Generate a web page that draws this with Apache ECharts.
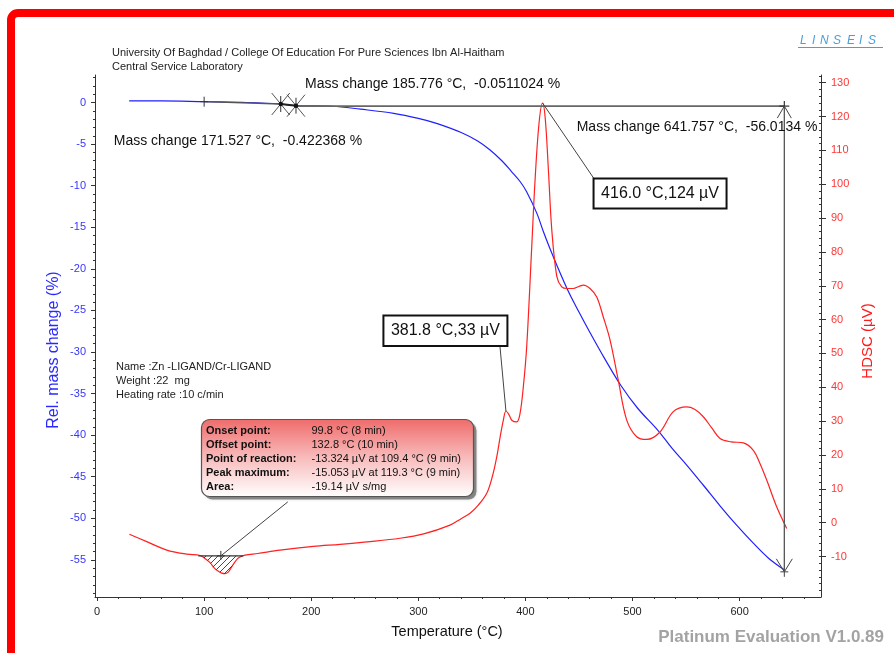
<!DOCTYPE html>
<html>
<head>
<meta charset="utf-8">
<script src="https://cdn.jsdelivr.net/npm/echarts@6/dist/echarts.min.js"></script>
<style>
html, body { margin: 0; padding: 0; background: #fff; }
#chart { width: 894px; height: 653px; }
</style>
</head>
<body>
<div id="chart"></div>
<script>
// ---- TG curve: temperature (°C) vs relative mass change (%) ----
const tgTemp = [30, 60, 100, 140, 171.5, 185.8, 220, 246, 277, 300, 317, 340, 355, 367, 378, 387, 395, 401,
  410.6, 417, 424.6, 438.6, 450, 460, 474, 489, 505, 523.5, 537, 550.6, 566, 581.7, 597, 612.8, 627, 641.757];
const tgMass = [0.2, 0.2, 0.1, 0, -0.18, -0.38, -0.45, -0.8, -1.3, -1.9, -2.5, -3.6, -4.6, -5.7, -7.0, -8.3, -9.5, -10.7,
  -13.3, -15.6, -18.1, -22.3, -25.2, -27.6, -30.8, -34.0, -36.8, -39.4, -41.6, -43.6, -46.0, -48.5, -50.8, -53.0, -54.8, -56.2];

// ---- HDSC curve: temperature (°C) vs signal (µV) ----
const dscTemp = [30.2, 46.4, 65.1, 83.8, 96.2, 100.5, 105.5, 109.4, 113, 116.5, 119.3, 122.5, 125.8, 128.8, 131.9, 138.2,
  150, 170.9, 202, 226.9, 255, 282.9, 305, 329.6, 340, 348.3, 356, 363.9, 369, 373.2, 376.5, 379.4, 381.8, 384.5, 387.5,
  392, 395, 398, 401.2, 405.9, 409, 412.7, 416.0, 418.5, 421.5, 424.6, 429.3, 433.9, 439, 444.7, 450, 454.1, 460.3,
  466.6, 472.5, 479, 486.7, 494.6, 503.9, 513.3, 525.7, 538.1, 550.6, 558, 566.1, 574, 581.7, 592, 603.5, 612.8, 619,
  625.3, 634.6, 644];
const dscSignal = [-3.4, -5.6, -8.1, -9.3, -9.7, -10.5, -11.8, -13.324, -14.3, -14.9, -15.053, -14.6, -13.0, -11.6, -10.4, -9.6,
  -9.1, -8.1, -7.0, -6.4, -5.6, -4.6, -3.3, -0.7, 1.2, 2.8, 5.2, 8.7, 13.5, 19.4, 25.5, 30.3, 33, 32.0, 30.2,
  29.8, 32.3, 40, 52, 81.5, 101.2, 118, 124, 119.5, 104, 86.6, 72.8, 69.7, 69.2, 69.2, 69.8, 70.2, 69.2,
  66.7, 61, 54, 42.1, 30.3, 25.4, 24.6, 26.8, 32.8, 34.2, 33.5, 31.3, 28, 24.9, 23.9, 23.6, 21.4, 17.5,
  12.6, 4.7, -1.7];

// ---- axis ticks ----
const tempTicks = [0, 100, 200, 300, 400, 500, 600];
const massTicks = [0, -5, -10, -15, -20, -25, -30, -35, -40, -45, -50, -55];
const dscTicks = [-10, 0, 10, 20, 30, 40, 50, 60, 70, 80, 90, 100, 110, 120, 130];

// ---- mass change evaluation ----
const massChangeTemps = [171.527, 185.776, 641.757];
const massChangeValues = [-0.422368, -0.0511024, -56.0134];
const massMarkerLevels = [-0.18, -0.38, -0.43];
const massStepStart = [100, 0.1];

// ---- DSC peak labels ----
const peakTemps = [381.8, 416.0];
const peakSignals = [33, 124];

// ---- endothermic peak evaluation ----
const evalOnset = [99.8, 8];
const evalOffset = [132.8, 10];
const evalReaction = [-13.324, 109.4, 9];
const evalPeakMax = [-15.053, 119.3, 9];
const evalArea = -19.14;
const evalBaseTemps = [94.6, 136.6];
const evalBaseLevel = -9.8;

// ---- axis ranges ----
const tempRange = [-1.9, 676];
const massRange = [-59.47, 3.31];
const dscRange = [-21.95, 132.27];

const FONT = '"Liberation Sans", Arial, sans-serif';

const massMinor = [];
for (let v = -59; v <= 3; v += 1) massMinor.push(v);
const dscMinor = [];
for (let v = -20; v <= 132; v += 2) dscMinor.push(v);
const tempMinor = [];
for (let v = 0; v <= 676; v += 20) tempMinor.push(v);

const tgData = tgTemp.map((t, i) => [t, tgMass[i]]);
const dscData = dscTemp.map((t, i) => [t, dscSignal[i]]);

// diagonal hatch used for the evaluated peak area
const hatch = document.createElement('canvas');
hatch.width = 6; hatch.height = 6;
(function () {
  const ctx = hatch.getContext('2d');
  ctx.strokeStyle = '#333';
  ctx.lineWidth = 0.9;
  ctx.beginPath();
  ctx.moveTo(0, 6); ctx.lineTo(6, 0);
  ctx.moveTo(-1, 1); ctx.lineTo(1, -1);
  ctx.moveTo(5, 7); ctx.lineTo(7, 5);
  ctx.stroke();
})();

function seg(a, b, w, col) {
  return { type: 'line', shape: { x1: a[0], y1: a[1], x2: b[0], y2: b[1] },
    style: { stroke: col || '#555', lineWidth: w || 1 } };
}
function txt(x, y, s, font, align, color) {
  return { type: 'text', style: { x: x, y: y, text: s, font: font, fill: color || '#111',
    textAlign: align || 'left', textVerticalAlign: 'middle' } };
}

// mass-change steps, markers, arrows and their captions
function renderMassMarks(params, api) {
  const g = [];
  const start = api.coord(massStepStart);
  const m1 = api.coord([massChangeTemps[0], massMarkerLevels[0]]);
  const m2 = api.coord([massChangeTemps[1], massMarkerLevels[1]]);
  const c0 = api.coord([massChangeTemps[1], massMarkerLevels[2]]);
  const top = api.coord([massChangeTemps[2], massMarkerLevels[2]]);
  const bottom = api.coord([massChangeTemps[2], massMarkerLevels[2] + massChangeValues[2]]);

  g.push(seg(start, m1, 1.3, '#555'));
  g.push(seg(m1, m2, 2, '#222'));
  g.push(seg(c0, top, 1.6, '#666'));
  g.push(seg(top, bottom, 1.3, '#555'));

  // small cross at the start of the step
  g.push(seg([start[0] - 4, start[1]], [start[0] + 4, start[1]], 1, '#333'));
  g.push(seg([start[0], start[1] - 5], [start[0], start[1] + 5], 1, '#333'));

  // asterisk markers
  [m1, m2].forEach(function (p) {
    g.push(seg([p[0] - 9, p[1] - 11], [p[0] + 9, p[1] + 11], 1, '#555'));
    g.push(seg([p[0] + 9, p[1] - 11], [p[0] - 9, p[1] + 11], 1, '#555'));
    g.push(seg([p[0], p[1] - 8], [p[0], p[1] + 8], 1, '#333'));
    g.push({ type: 'circle', shape: { cx: p[0], cy: p[1], r: 2.2 }, style: { fill: '#111' } });
  });

  // arrow heads on the vertical mass-change line
  g.push(seg([top[0] - 5, top[1]], [top[0] + 5, top[1]], 1.2, '#333'));
  g.push(seg([top[0], top[1] - 5], [top[0], top[1]], 1.2, '#333'));
  g.push(seg(top, [top[0] - 7, top[1] + 12], 1, '#444'));
  g.push(seg(top, [top[0] + 7, top[1] + 12], 1, '#444'));
  g.push(seg(bottom, [bottom[0] - 8, bottom[1] - 13], 1, '#444'));
  g.push(seg(bottom, [bottom[0] + 8, bottom[1] - 13], 1, '#444'));
  g.push(seg(bottom, [bottom[0], bottom[1] + 5], 1, '#444'));
  g.push(seg([bottom[0] - 4, bottom[1]], [bottom[0] + 4, bottom[1]], 1, '#444'));

  const cap = function (i) {
    return 'Mass change ' + massChangeTemps[i] + ' °C,  ' + massChangeValues[i] + ' %';
  };
  const f = '14px ' + FONT;
  g.push(txt(m1[0] - 167, m1[1] + 37, cap(0), f, 'left'));
  g.push(txt(m2[0] + 9, m2[1] - 22, cap(1), f, 'left'));
  g.push(txt(top[0] + 33, top[1] + 21, cap(2), f, 'right'));
  return { type: 'group', children: g };
}

// DSC peak value boxes, evaluated peak area and baseline
function renderDscMarks(params, api) {
  const g = [];
  const boxFont = '16px ' + FONT;
  const label = function (i) {
    return peakTemps[i].toFixed(1) + ' °C,' + peakSignals[i] + ' µV';
  };

  // hatched area between baseline and curve
  const poly = [api.coord([evalBaseTemps[0], evalBaseLevel])];
  dscTemp.forEach(function (t, i) {
    if (t > evalBaseTemps[0] && t < evalBaseTemps[1]) {
      poly.push(api.coord([t, Math.min(dscSignal[i], evalBaseLevel)]));
    }
  });
  poly.push(api.coord([evalBaseTemps[1], evalBaseLevel]));
  g.push({ type: 'polygon', shape: { points: poly, smooth: 0.3 },
    style: { fill: { image: hatch, repeat: 'repeat' }, stroke: null } });

  const b0 = api.coord([evalBaseTemps[0], evalBaseLevel]);
  const b1 = api.coord([evalBaseTemps[1], evalBaseLevel]);
  g.push(seg(b0, b1, 1.2, '#333'));
  const mid = api.coord([(evalBaseTemps[0] + evalBaseTemps[1]) / 2, evalBaseLevel]);
  g.push(seg([mid[0] - 4, mid[1]], [mid[0] + 4, mid[1]], 1, '#333'));
  g.push(seg([mid[0], mid[1] - 5], [mid[0], mid[1] + 4], 1, '#333'));
  g.push(seg(mid, [mid[0] + 67, mid[1] - 54], 1, '#444'));

  // 381.8 °C box (up-left of the point)
  const p0 = api.coord([peakTemps[0], peakSignals[0]]);
  g.push(seg([p0[0] - 6, p0[1] - 65], p0, 1, '#444'));
  g.push({ type: 'rect', shape: { x: p0[0] - 122.5, y: p0[1] - 95.5, width: 124, height: 30.5 },
    style: { fill: '#fff', stroke: '#111', lineWidth: 2 } });
  g.push(txt(p0[0] - 60.5, p0[1] - 80, label(0), boxFont, 'center'));

  // 416.0 °C box (down-right of the point)
  const p1 = api.coord([peakTemps[1], peakSignals[1]]);
  g.push(seg(p1, [p1[0] + 51, p1[1] + 75], 1, '#444'));
  g.push({ type: 'rect', shape: { x: p1[0] + 51, y: p1[1] + 75.5, width: 133, height: 30 },
    style: { fill: '#fff', stroke: '#111', lineWidth: 2 } });
  g.push(txt(p1[0] + 117.5, p1[1] + 91, label(1), boxFont, 'center'));

  return { type: 'group', children: g };
}

const evalLabels = ['Onset point:', 'Offset point:', 'Point of reaction:', 'Peak maximum:', 'Area:'];
const evalTexts = [
  evalOnset[0].toFixed(1) + ' °C (' + evalOnset[1] + ' min)',
  evalOffset[0].toFixed(1) + ' °C (' + evalOffset[1] + ' min)',
  evalReaction[0].toFixed(3) + ' µV at ' + evalReaction[1].toFixed(1) + ' °C (' + evalReaction[2] + ' min)',
  evalPeakMax[0].toFixed(3) + ' µV at ' + evalPeakMax[1].toFixed(1) + ' °C (' + evalPeakMax[2] + ' min)',
  evalArea.toFixed(2) + ' µV s/mg'
];

const graphics = [];
function gText(x, y, s, font, color, align, extra) {
  const el = { type: 'text', x: x, y: y, z: 50,
    style: { text: s, font: font, fill: color || '#111', textAlign: align || 'left', textVerticalAlign: 'middle' } };
  if (extra) Object.assign(el, extra);
  graphics.push(el);
}

// header
gText(112, 53, 'University Of Baghdad / College Of Education For Pure Sciences Ibn Al-Haitham', '11px ' + FONT, '#222');
gText(112, 67, 'Central Service Laboratory', '11px ' + FONT, '#222');

// maker logo
const logoLetters = ['L', 'I', 'N', 'S', 'E', 'I', 'S'];
const logoX = [800, 812, 820, 833, 847, 859, 868];
logoLetters.forEach(function (ch, i) {
  gText(logoX[i], 41, ch, 'italic 12px ' + FONT, '#4a9fd8');
});
graphics.push({ type: 'line', z: 50, shape: { x1: 798, y1: 47.5, x2: 883, y2: 47.5 },
  style: { stroke: '#4a9fd8', lineWidth: 1.2 } });

// sample information
gText(116, 367, 'Name :Zn -LIGAND/Cr-LIGAND', '11px ' + FONT, '#222');
gText(116, 381, 'Weight :22  mg', '11px ' + FONT, '#222');
gText(116, 395, 'Heating rate :10 c/min', '11px ' + FONT, '#222');

// peak evaluation panel
graphics.push({ type: 'rect', z: 40, shape: { x: 204.5, y: 422.5, width: 272, height: 77, r: 8 },
  style: { fill: 'rgba(60,60,60,0.55)', shadowBlur: 3, shadowColor: 'rgba(0,0,0,0.3)' } });
graphics.push({ type: 'rect', z: 41, shape: { x: 201.5, y: 419.5, width: 272, height: 77, r: 8 },
  style: {
    fill: new echarts.graphic.LinearGradient(0, 0, 0, 1, [
      { offset: 0, color: '#ef6b6b' },
      { offset: 0.5, color: '#f8bcbc' },
      { offset: 1, color: '#ffffff' }
    ]),
    stroke: '#555', lineWidth: 1.2 } });
evalLabels.forEach(function (s, i) {
  gText(206, 431 + i * 14, s, 'bold 11px ' + FONT, '#111');
  gText(311.5, 431 + i * 14, evalTexts[i], '11px ' + FONT, '#111');
});

// axis titles
gText(54, 350, 'Rel. mass change (%)', '16px ' + FONT, '#2a2aff', 'center', { rotation: Math.PI / 2 });
gText(868, 341, 'HDSC (µV)', '15px ' + FONT, '#ff1a1a', 'center', { rotation: Math.PI / 2 });
gText(447, 632, 'Temperature (°C)', '14.5px ' + FONT, '#111', 'center');
gText(884, 637, 'Platinum Evaluation V1.0.89', 'bold 17px ' + FONT, '#a3a3a3', 'right');

// frame
graphics.push({ type: 'rect', z: 60, shape: { x: 11, y: 13, width: 1000, height: 1000, r: 7 },
  style: { fill: null, stroke: '#ff0000', lineWidth: 8 } });

const chart = echarts.init(document.getElementById('chart'), null, { renderer: 'canvas' });

function axisBase(range, pos) {
  return {
    type: 'value', min: range[0], max: range[1], position: pos,
    splitLine: { show: false },
    axisLine: { show: true, onZero: false, lineStyle: { color: '#333', width: 1 } }
  };
}
function minorAxis(range, pos, values, inside) {
  return {
    type: 'value', min: range[0], max: range[1], position: pos,
    splitLine: { show: false },
    axisLine: { show: false, onZero: false },
    axisTick: { show: true, inside: !!inside, customValues: values, length: 2, lineStyle: { color: '#333' } },
    axisLabel: { show: false }
  };
}

chart.setOption({
  animation: false,
  backgroundColor: '#fff',
  textStyle: { fontFamily: FONT },
  grid: { left: 95, right: 73, top: 75, bottom: 56 },
  xAxis: [
    Object.assign(axisBase(tempRange, 'bottom'), {
      axisTick: { show: true, customValues: tempTicks, length: 4, lineStyle: { color: '#333' } },
      axisLabel: { customValues: tempTicks, margin: 9, color: '#222', fontSize: 11 }
    }),
    minorAxis(tempRange, 'bottom', tempMinor, false)
  ],
  yAxis: [
    Object.assign(axisBase(massRange, 'left'), {
      axisTick: { show: true, customValues: massTicks, length: 4, lineStyle: { color: '#333' } },
      axisLabel: { customValues: massTicks, margin: 9, color: '#3636ff', fontSize: 11 }
    }),
    Object.assign(axisBase(dscRange, 'right'), {
      axisTick: { show: true, customValues: dscTicks, length: 5, lineStyle: { color: '#333' } },
      axisLabel: { customValues: dscTicks, margin: 10, color: '#ff3636', fontSize: 11 }
    }),
    minorAxis(massRange, 'left', massMinor, false),
    minorAxis(dscRange, 'right', dscMinor, true)
  ],
  series: [
    {
      name: 'TG', type: 'line', xAxisIndex: 0, yAxisIndex: 0, data: tgData,
      symbol: 'none', smooth: 0.35,
      lineStyle: { color: '#2020ff', width: 1.2 }, z: 3
    },
    {
      name: 'HDSC', type: 'line', xAxisIndex: 0, yAxisIndex: 1, data: dscData,
      symbol: 'none', smooth: 0.35,
      lineStyle: { color: '#ff2020', width: 1.2 }, z: 4
    },
    {
      name: 'mass marks', type: 'custom', xAxisIndex: 0, yAxisIndex: 0,
      data: [[massChangeTemps[2], massMarkerLevels[2]]], renderItem: renderMassMarks, z: 5, silent: true
    },
    {
      name: 'dsc marks', type: 'custom', xAxisIndex: 0, yAxisIndex: 1,
      data: [[peakTemps[1], peakSignals[1]]], renderItem: renderDscMarks, z: 6, silent: true
    }
  ],
  graphic: { elements: graphics }
});
</script>
</body>
</html>
